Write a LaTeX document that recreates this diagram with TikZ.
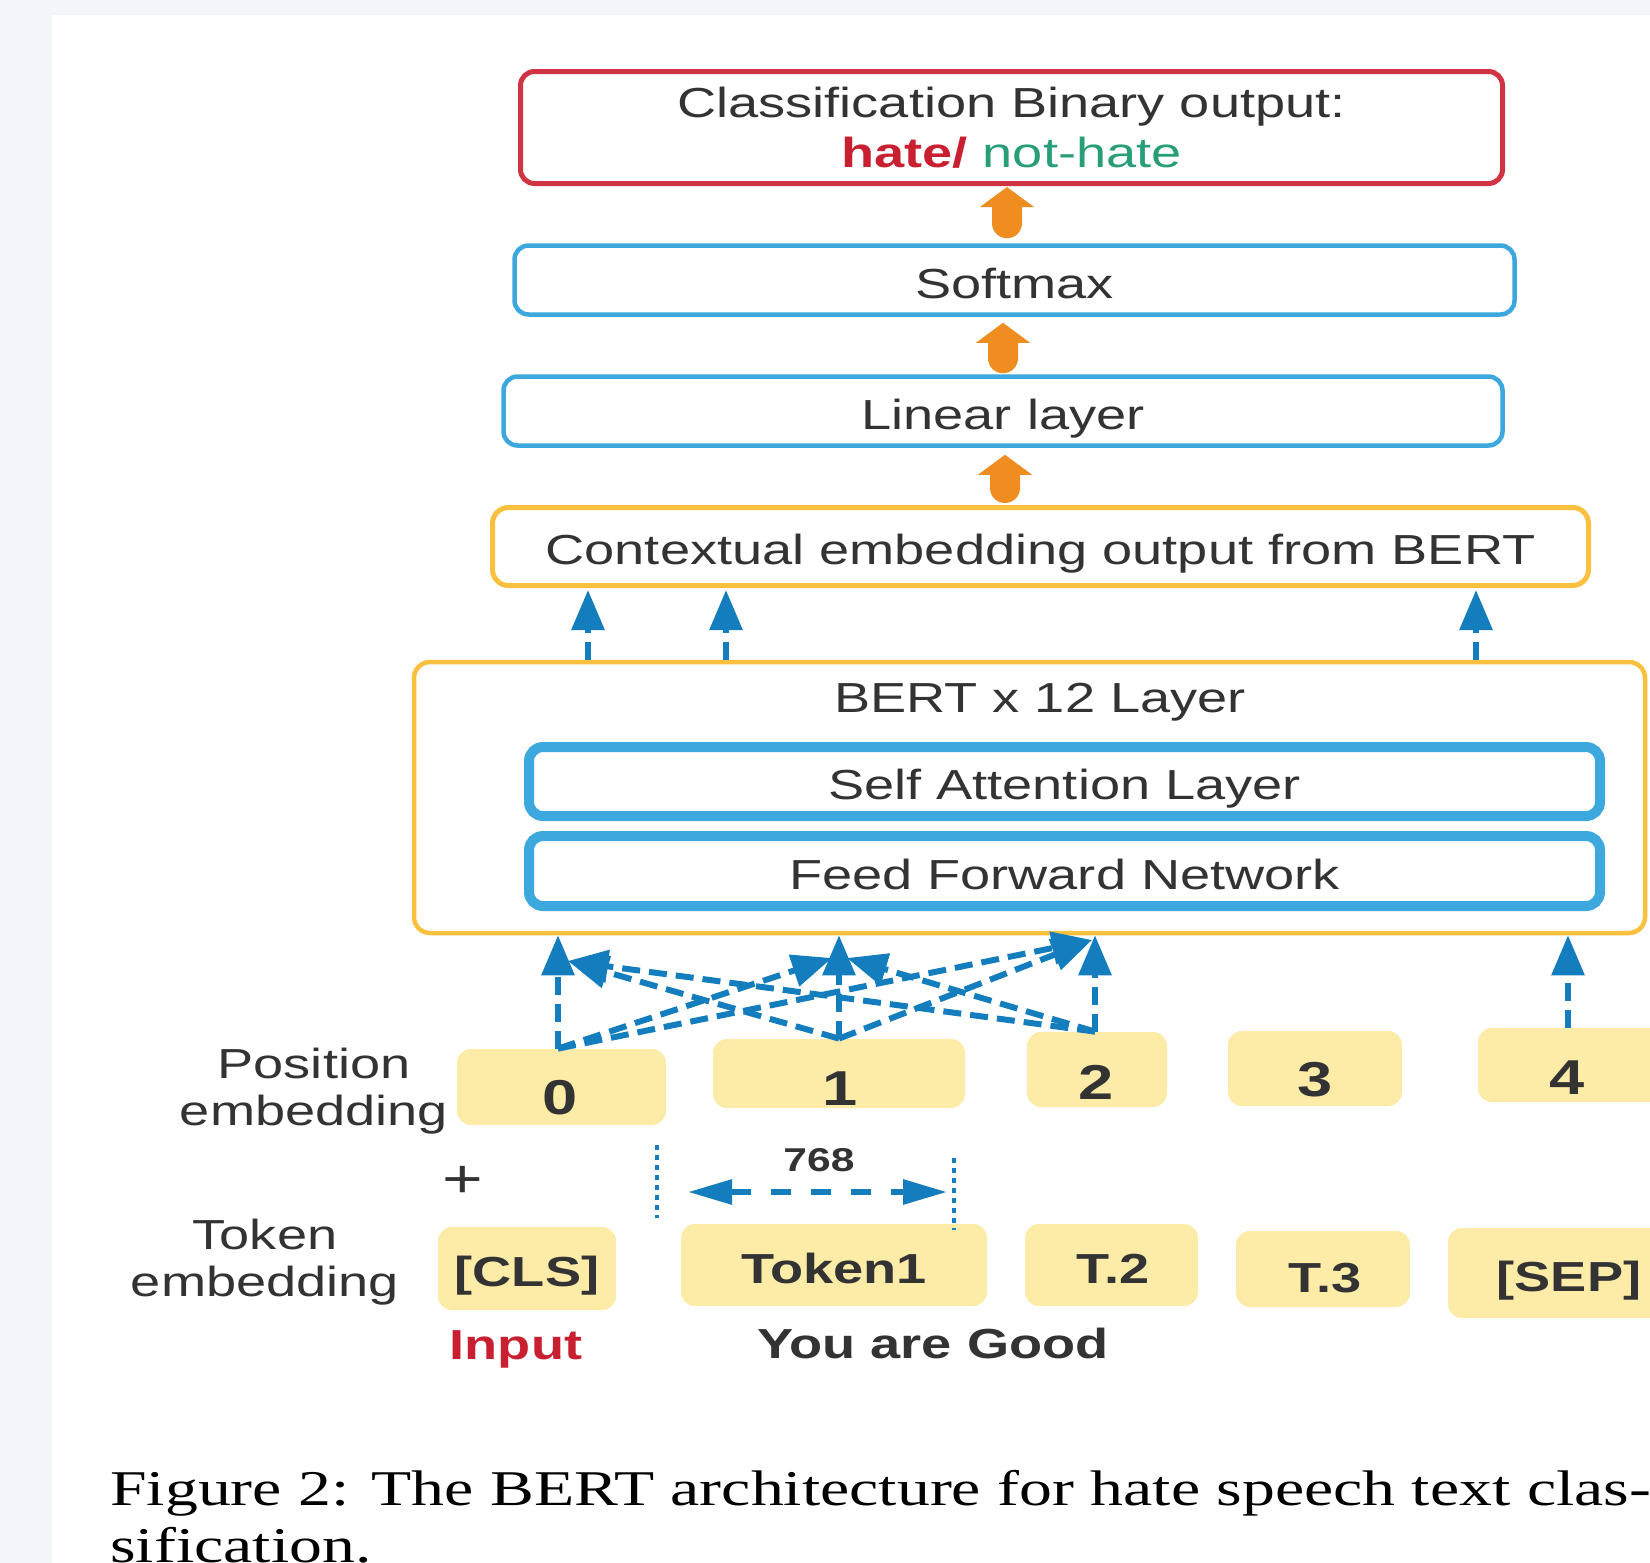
\documentclass[tikz,border=0pt]{standalone}
\usepackage{fontspec}
\usetikzlibrary{arrows.meta,calc}
\newfontfamily\dfont{Liberation Sans}[FakeStretch=1.29]
\newfontfamily\capfont{Liberation Serif}[FakeStretch=1.315]

\definecolor{pagebg}{RGB}{242,245,250}
\definecolor{txt}{RGB}{51,51,51}
\definecolor{redline}{RGB}{208,52,66}
\definecolor{hatered}{RGB}{200,32,48}
\definecolor{nothate}{RGB}{40,158,120}
\definecolor{lightblue}{RGB}{61,168,222}
\definecolor{goldline}{RGB}{250,192,62}
\definecolor{posfill}{RGB}{253,235,168}
\definecolor{arrowblue}{RGB}{20,125,190}
\definecolor{orangearrow}{RGB}{239,141,33}

\begin{document}
\begin{tikzpicture}[x=0.5pt,y=-0.5pt,
  every node/.style={inner sep=0pt, text=txt, font=\dfont\fontsize{21pt}{25pt}\selectfont},
  sz/.style 2 args={minimum width={(#1)*0.5pt}, minimum height={(#2)*0.5pt}},
  boxtext/.style={text height=18pt, text depth=0pt},
  redbox/.style={draw=redline, line width=2.5pt, rounded corners=7pt, align=center},
  bluebox/.style={draw=lightblue, line width=2.25pt, rounded corners=7pt, boxtext},
  goldbox/.style={draw=goldline, line width=2.5pt, rounded corners=8pt, boxtext},
  bertbox/.style={draw=goldline, line width=2.25pt, rounded corners=8pt},
  thickblue/.style={draw=lightblue, line width=5pt, rounded corners=7pt, boxtext},
  posbox/.style={fill=posfill, rounded corners=7pt},
  digit/.style={font=\dfont\bfseries\fontsize{24.5pt}{28pt}\selectfont, text height=17.5pt, text depth=0pt},
  tok/.style={font=\dfont\bfseries\fontsize{21pt}{25pt}\selectfont, text height=15pt, text depth=0pt},
  sidelabel/.style={align=center, font=\dfont\fontsize{21pt}{23.5pt}\selectfont},
  oarrow/.style={draw=orangearrow, line width=15pt, line cap=butt,
    {Round Cap}-{Triangle[width=26.5pt,length=10pt]}},
  barrow/.style={draw=arrowblue, line width=3pt, dash pattern=on 9pt off 4.5pt,
    -{Triangle[width=16pt,length=20pt]}},
  widtharrow/.style={draw=arrowblue, line width=3pt, dash pattern=on 10pt off 10pt,
    {Triangle[width=12pt,length=22pt]}-{Triangle[width=12pt,length=22pt]}},
  dotline/.style={draw=arrowblue, line width=1.75pt, dash pattern=on 2.5pt off 2.5pt},
]
\useasboundingbox (0,0) rectangle (1650,1563);
\clip (0,0) rectangle (1650,1563);

% page and surrounding margin
\fill[pagebg] (0,0) rectangle (1650,1563);
\fill[white] (52,15) rectangle (1650,1563);

% output stack
\node[redbox, sz={982}{112}] (cls) at (1011.5,127.5)
  {Classification Binary output:\\{\color{hatered}\bfseries hate/} {\color{nothate}not-hate}};
\node[bluebox, sz={1000}{69}] (soft) at (1014.5,280) {Softmax};
\node[bluebox, sz={999}{69}] (lin) at (1003,411) {Linear layer};
\node[goldbox, sz={1096}{78}] (ctx) at (1040.5,546.5) {Contextual embedding output from BERT};

% encoder block
\node[bertbox, sz={1231}{271}] (bert) at (1029.5,797.5) {};
\node[text height=15pt, text depth=0pt] (berttitle) at (1040,697) {BERT x 12 Layer};
\node[thickblue, sz={1071}{69}] (sa) at (1064.5,781.5) {Self Attention Layer};
\node[thickblue, sz={1071}{70}] (ffn) at (1064.5,871) {Feed Forward Network};

% orange arrows between the output layers
\draw[oarrow, shorten <=2.5pt, shorten >=0.5pt]
  ([xshift=-3.75pt]soft.north) -- ([xshift=-3.75pt]soft.north |- cls.south);
\draw[oarrow, shorten <=0.5pt, shorten >=3pt]
  (lin.north) -- (lin.north |- soft.south);
\draw[oarrow, shorten <=1pt, shorten >=3.5pt]
  ([xshift=-17.75pt]ctx.north) -- ([xshift=-17.75pt]ctx.north |- lin.south);

% encoder outputs
\foreach \dx in {-220.75,-151.75,223.25}{
  \draw[barrow, shorten >=1pt]
    ([xshift=\dx pt]bert.north) -- ([xshift=\dx pt]bert.north |- ctx.south);
}

% position embeddings
\node[posbox, sz={209}{76}] (p0) at (561.5,1087) {};
\node[posbox, sz={252}{69}] (p1) at (839,1073.5) {};
\node[posbox, sz={140}{75}] (p2) at (1097,1069.5) {};
\node[posbox, sz={174}{75}] (p3) at (1315,1068.5) {};
\node[posbox, sz={202}{74}] (p4) at (1579,1065) {};
\node[digit] (d0) at (560,1097) {0};
\node[digit] (d1) at (840,1088) {1};
\node[digit] (d2) at (1096,1082) {2};
\node[digit] (d3) at (1315,1079) {3};
\node[digit] (d4) at (1567,1077) {4};

% token embeddings
\node[posbox, sz={178}{83}] (t0) at (527,1268.5) {};
\node[posbox, sz={306}{82}] (t1) at (834,1265) {};
\node[posbox, sz={173}{82}] (t2) at (1111.5,1265) {};
\node[posbox, sz={174}{76}] (t3) at (1323,1269) {};
\node[posbox, sz={242}{90}] (t4) at (1569,1273) {};
\node[tok] (w0) at (527,1271) {[CLS]};
\node[tok] (w1) at (834,1268) {Token1};
\node[tok] (w2) at (1113,1268) {T.2};
\node[tok] (w3) at (1325,1277) {T.3};
\node[tok] (w4) at (1569,1276) {[SEP]};

% row labels
\node[sidelabel] (poslabel) at (314,1091) {Position\\embedding};
\node[font=\dfont\fontsize{27pt}{30pt}\selectfont] (plus) at (463,1182) {+};
\node[sidelabel] (toklabel) at (265,1262) {Token\\embedding};
\node[tok, text=hatered] (inputlabel) at (516,1344) {Input};
\node[tok] (sentence) at (933,1343) {You are Good};

% hidden-size marker
\coordinate (ml1) at (657,1145);
\coordinate (ml2) at (657,1218);
\coordinate (mr1) at (954,1158);
\coordinate (mr2) at (954,1230);
\coordinate (wl) at (688,1192);
\coordinate (wr) at (947,1192);
\draw[dotline] (ml1) -- (ml2);
\draw[dotline] (mr1) -- (mr2);
\draw[widtharrow] (wl) -- (wr);
\node[tok, font=\dfont\bfseries\fontsize{16.5pt}{19pt}\selectfont, text height=11.8pt] (dim) at (819,1160) {768};

% attention connections from the inputs into the encoder
\coordinate (s0) at ([xshift=-1.75pt]p0.north);
\coordinate (s1) at (p1.north);
\coordinate (s2) at ([xshift=-1pt]p2.north);
\coordinate (s4) at ([xshift=-5.5pt]p4.north);
\coordinate (h0) at (568,961);
\coordinate (h1l) at (832,958);
\coordinate (h1r) at (847,958);
\coordinate (h2) at (1092,940);
\draw[barrow] (s0) -- (s0 |- bert.south);
\draw[barrow] (s1) -- (s1 |- bert.south);
\draw[barrow] (s2) -- (s2 |- bert.south);
\draw[barrow] (s4) -- (s4 |- bert.south);
\draw[barrow] (s0) -- (h1l);
\draw[barrow] (s0) -- (h2);
\draw[barrow] (s1) -- (h0);
\draw[barrow] (s1) -- (h2);
\draw[barrow] (s2) -- (h0);
\draw[barrow] (s2) -- (h1r);

% caption
\node[anchor=base west, text=black, font=\capfont\fontsize{25pt}{28.5pt}\selectfont] (cap1) at (110,1505)
  {Figure 2: The BERT architecture for hate speech text clas-};
\node[anchor=base west, text=black, font=\capfont\fontsize{25pt}{28.5pt}\selectfont] (cap2) at (110,1562)
  {sification.};
\end{tikzpicture}
\end{document}
